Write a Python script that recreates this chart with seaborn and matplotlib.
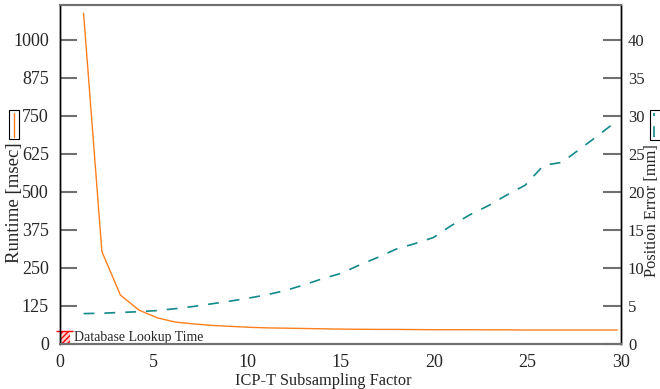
import matplotlib
matplotlib.use("Agg")
import matplotlib.pyplot as plt
import seaborn as sns
import pandas as pd
from matplotlib.patches import Rectangle
from matplotlib.lines import Line2D

# subsampling factors as plotted
factor = [1.26, 2.24, 3.23, 4.21, 5.2, 6.18, 7.16, 8.15, 9.13, 10.12,
          11.1, 12.08, 13.07, 14.05, 15.04, 16.02, 17.0, 17.99, 18.97, 19.96,
          20.94, 21.92, 22.91, 23.89, 24.88, 25.86, 26.84, 27.83, 28.81, 29.8]
runtime_ms = [1088, 304, 161, 112, 86, 72, 66, 61, 58, 55,
              53, 52, 51, 50, 49, 48.5, 48, 48, 47.5, 47,
              47, 47, 46.5, 46.5, 46, 46, 46, 46, 46, 46]
pos_error_mm = [4.0, 4.05, 4.15, 4.25, 4.4, 4.65, 4.95, 5.3, 5.65, 6.05,
                6.5, 7.05, 7.8, 8.6, 9.3, 10.4, 11.4, 12.5, 13.2, 14.0,
                15.6, 17.0, 18.2, 19.6, 20.9, 23.5, 23.9, 25.7, 27.5, 29.4]
db_lookup_ms = 44

left_ticks = [0, 125, 250, 375, 500, 625, 750, 875, 1000]
right_ticks = [0, 5, 10, 15, 20, 25, 30, 35, 40]
x_ticks = [0, 5, 10, 15, 20, 25, 30]

df = pd.DataFrame({"factor": factor, "runtime": runtime_ms, "error": pos_error_mm})

sns.set_style("white")
plt.rcParams["font.family"] = ["Liberation Serif", "DejaVu Serif"]
plt.rcParams["hatch.color"] = "red"

ORANGE = "#ff7f1e"
TEAL = "#12898a"

fig = plt.figure(figsize=(6.6, 3.89), dpi=100)
ax = fig.add_axes([60 / 660, 1 - 344 / 389, 561 / 660, 339 / 389])
ax2 = ax.twinx()

sns.lineplot(data=df, x="factor", y="runtime", ax=ax, color=ORANGE, lw=1.0)
sns.lineplot(data=df, x="factor", y="error", ax=ax2, color=TEAL, lw=1.2,
             linestyle=(0, (6.5, 6)))

# database lookup bar
ax.bar([0], [db_lookup_ms], width=0.55, align="edge", color="#ffd0d0",
       edgecolor="red", hatch="//////", lw=0, zorder=1)
ax.hlines(db_lookup_ms, -0.22, 0.7, color="red", lw=1.0, clip_on=False)
ax.text(0.75, db_lookup_ms / 2 + 1, "Database Lookup Time", fontsize=10,
        va="center", ha="left")

ax.set_xlim(0, 30)
ax.set_ylim(0, 1115)
ax2.set_ylim(0, 1115 / 25)
ax.set_xticks(x_ticks)
ax.set_yticks(left_ticks)
ax2.set_yticks(right_ticks)
ax.set_xlabel("")
ax.set_ylabel("")
ax2.set_ylabel("")

ax.tick_params(axis="x", direction="inout", length=13, width=1, color="black",
               labelsize=13, pad=1)
ax.tick_params(axis="y", direction="in", length=12, width=1.5, color="#707070",
               labelsize=13, pad=8)
ax2.tick_params(axis="y", direction="in", length=13, width=1.5, color="#707070",
                labelsize=12, pad=5)

for a in (ax, ax2):
    for s in ("top", "bottom"):
        a.spines[s].set_color("#707070")
        a.spines[s].set_linewidth(1.5)
    for s in ("left", "right"):
        a.spines[s].set_color("black")
        a.spines[s].set_linewidth(1.0)

fig.text(323 / 660, 1 - 381 / 389, "ICP-T Subsampling Factor", fontsize=11.8,
         ha="center", va="center")
fig.text(15 / 660, 1 - 203 / 389, "Runtime [msec]", fontsize=13.5,
         rotation=90, ha="center", va="center")
fig.text(652.5 / 660, 1 - 211 / 389, "Position Error [mm]", fontsize=11.8,
         rotation=90, ha="center", va="center")

# rotated legend keys next to the axis labels
fig.add_artist(Rectangle((9 / 660, 1 - 139 / 389), 9.5 / 660, 29 / 389,
                         transform=fig.transFigure, fill=False, lw=0.8,
                         edgecolor="black"))
fig.add_artist(Line2D([13.8 / 660, 13.8 / 660], [1 - 137 / 389, 1 - 113 / 389],
                      transform=fig.transFigure, color=ORANGE, lw=1.0))
fig.add_artist(Rectangle((649.5 / 660, 1 - 140 / 389), 12 / 660, 30 / 389,
                         transform=fig.transFigure, fill=False, lw=0.8,
                         edgecolor="black"))
fig.add_artist(Line2D([654 / 660, 654 / 660], [1 - 137 / 389, 1 - 113 / 389],
                      transform=fig.transFigure, color=TEAL, lw=1.2,
                      linestyle=(0, (6.5, 6))))

fig.savefig("out.png", dpi=100)
